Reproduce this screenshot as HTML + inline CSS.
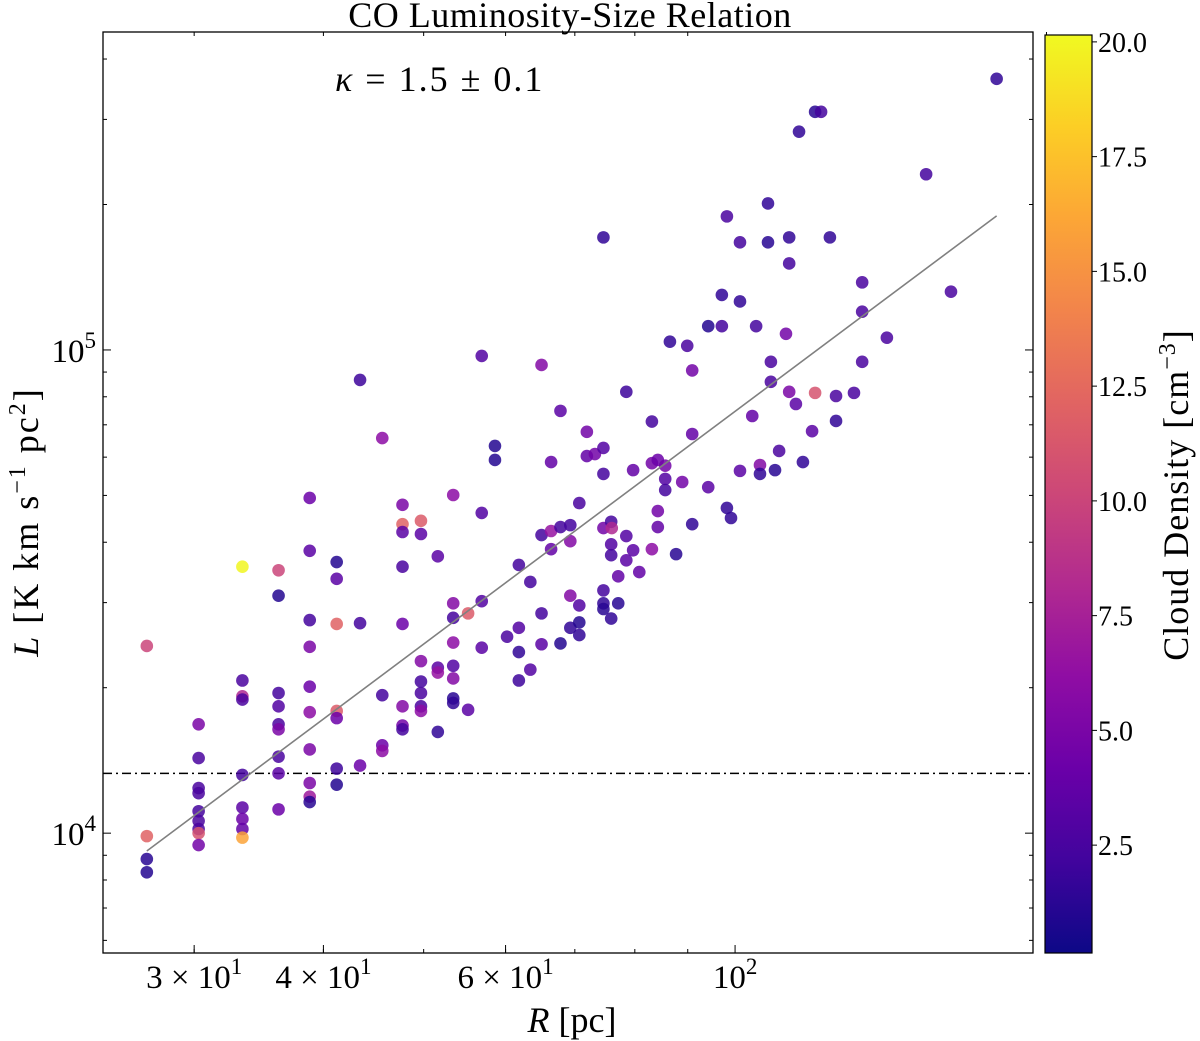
<!DOCTYPE html>
<html><head><meta charset="utf-8"><style>
html,body{margin:0;padding:0;background:#fff;}
svg{display:block;font-family:"Liberation Serif",serif;}
</style></head><body>
<svg id="chart" width="1200" height="1041" viewBox="0 0 1200 1041" xmlns="http://www.w3.org/2000/svg">
<defs>
<linearGradient id="plasma" x1="0" y1="1" x2="0" y2="0">
<stop offset="0" stop-color="#0d0887"/><stop offset="0.1" stop-color="#41049d"/><stop offset="0.2" stop-color="#6a00a8"/><stop offset="0.3" stop-color="#8f0da4"/><stop offset="0.4" stop-color="#b12a90"/><stop offset="0.5" stop-color="#cc4778"/><stop offset="0.6" stop-color="#e16462"/><stop offset="0.7" stop-color="#f2844b"/><stop offset="0.8" stop-color="#fca636"/><stop offset="0.9" stop-color="#fcce25"/><stop offset="1" stop-color="#f0f921"/>
</linearGradient>
<clipPath id="clip"><rect x="103" y="32" width="930" height="921"/></clipPath>
</defs>
<text x="570" y="27" font-size="36" text-anchor="middle" letter-spacing="0.5">CO Luminosity-Size Relation</text>
<text x="335" y="91" font-size="36" letter-spacing="2"><tspan font-style="italic">κ</tspan> = 1.5 ± 0.1</text>
<g id="marks" clip-path="url(#clip)"></g>
<g id="axes"></g>
<rect x="103" y="32" width="930" height="921" fill="none" stroke="#000" stroke-width="1.3"/>
<text x="572" y="1032" font-size="36" text-anchor="middle"><tspan font-style="italic">R</tspan> [pc]</text>
<text transform="translate(38,522) rotate(-90)" font-size="36" text-anchor="middle" letter-spacing="2"><tspan font-style="italic">L</tspan> [K km s<tspan dy="-13" font-size="24">−1</tspan><tspan dy="13"> pc</tspan><tspan dy="-13" font-size="24">2</tspan><tspan dy="13">]</tspan></text>
<rect x="1045" y="35" width="47" height="918" fill="url(#plasma)" stroke="#000" stroke-width="1.2"/>
<g id="cbticks"></g>
<text transform="translate(1188,495) rotate(-90)" font-size="36" text-anchor="middle" letter-spacing="1">Cloud Density [cm<tspan dy="-13" font-size="24">−3</tspan><tspan dy="13">]</tspan></text>
</svg>
<script>
const radius = [27.0,27.0,27.0,27.0,30.3,30.3,30.3,30.3,30.3,30.3,30.3,30.3,30.3,33.4,33.4,33.4,33.4,33.4,33.4,33.4,33.4,33.4,36.2,36.2,36.2,36.2,36.2,36.2,36.2,36.2,36.2,38.8,38.8,38.8,38.8,38.8,38.8,38.8,38.8,38.8,38.8,41.2,41.2,41.2,41.2,41.2,41.2,41.2,43.4,43.4,43.4,45.6,45.6,45.6,45.6,47.7,47.7,47.7,47.7,47.7,47.7,47.7,47.7,49.7,49.7,49.7,49.7,49.7,49.7,49.7,51.6,51.6,51.6,51.6,53.4,53.4,53.4,53.4,53.4,53.4,53.4,53.4,55.2,55.2,56.9,56.9,56.9,56.9,58.6,58.6,60.2,61.8,61.8,61.8,61.8,63.4,63.4,65.0,65.0,65.0,65.0,66.4,66.4,66.4,67.8,67.8,67.8,69.3,69.3,69.3,69.3,70.7,70.7,70.7,70.7,71.9,71.9,73.2,74.6,74.6,74.6,74.6,74.6,74.6,74.6,75.9,75.9,75.9,75.9,76.0,77.1,77.1,78.5,78.5,78.5,79.7,79.7,80.8,83.1,83.1,83.1,84.2,84.2,84.2,85.6,85.6,85.6,86.5,87.7,88.9,89.9,90.9,90.9,90.9,94.2,94.2,97.1,97.1,98.2,98.2,99.1,101.1,101.1,101.1,103.9,104.8,105.7,105.7,107.6,107.6,108.3,108.3,109.3,110.3,112.0,112.8,112.8,112.8,114.5,115.3,116.3,118.7,119.5,119.5,121.1,123.5,125.2,125.2,130.3,132.7,132.7,132.7,140.2,153.0,161.7,179.0];
const luminosity = [24400,9860,8840,8300,16800,14300,12400,12100,11100,10600,10200,10000,9450,35600,20700,19200,18900,13200,11300,10700,10200,9790,35000,31000,19500,18300,16800,16400,14400,13300,11200,49400,38400,27600,24300,20100,17800,14900,12700,11900,11600,36400,33600,27100,17900,17300,13600,12600,86700,27200,13800,65700,19300,15200,14800,43600,42000,47800,35600,27100,18300,16700,16400,44300,41600,22700,20600,19500,18300,17900,37400,22000,21500,16200,50100,29900,27900,24800,22200,20900,19000,18600,28500,18000,97200,46000,30200,24200,63300,59200,25500,35900,26600,23700,20700,33100,21800,93100,41400,28500,24600,58600,42200,38700,74800,43000,24700,43400,40200,31000,26600,48200,29600,27300,25700,67700,60300,60900,171000,62700,55400,42800,31800,29900,29100,44100,39600,37600,27800,42800,34000,29900,81900,41200,36700,56400,38500,34700,71100,58300,38700,59200,46400,43000,57600,54100,51300,104000,37800,53300,102000,90700,67000,43600,112000,52000,112000,130000,189000,47100,44900,126000,167000,56200,73000,112000,57800,55400,201000,167000,94500,85900,56400,61800,108000,171000,151000,81900,77300,283000,58600,67900,311000,81500,311000,171000,80300,71300,81500,138000,120000,94500,106000,231000,132000,364000];
const density = [10,12,1.2,1,5,2.6,2.6,2.6,2.3,2.6,2.6,11,4.6,20,2.6,8,2.6,2.3,3.4,4.2,3.8,16,10,1,2.3,3,2.6,5,2.6,3.4,4.2,4.2,3.4,2.3,5,4.2,6,5,5,7,1.2,1,3.4,12,11.5,4.2,2,1,2,2.3,4.2,6,2.3,4.2,6,12,3.4,5,2.6,4.2,5.5,4.6,2.3,11.5,3.4,5.5,2.3,2.6,2.6,6,3.4,3.4,6.5,1.5,6,5.5,2.3,6,3,5.5,1.2,1.5,11.5,3.4,3,3,3,3.4,1,1,2.6,2.3,3,1.5,2,2.3,3,5.5,2.3,2.3,3.4,3.8,6.5,3.8,3.4,2.3,1,2.3,5.5,5.5,1.5,2.6,3,1,1.5,4.6,3.8,4.6,1.5,3,2.3,4.6,2.3,1.5,1.2,2.3,3,2.3,1.5,8,3.8,1.2,2,3,3.4,3.8,3.4,3.8,2.3,4.6,6,4.2,4.6,3.8,4.6,3,2.3,1.5,1.2,4.6,2.6,4.6,3.8,1.5,1,3.4,2.3,1.5,2.6,1.5,1.5,1.5,2.3,3.4,3.8,2.3,5.5,1.5,1.5,1.2,2.6,2.6,1.2,2.6,4.6,1.5,2.3,5,3.4,1.5,1.5,3.4,1.2,11,2.3,1.5,2.6,1.5,2.6,2.6,2.6,2.6,2.6,2.3,2.6,1.5];
const fitSlope = 1.6;
const fitIntercept = 1.673;
const completenessLimit = 13300;
const xTickValues = [30,40,60,100];
const xTickLabels = ["3 × 10","4 × 10","6 × 10","10"];
const xTickExps = ["1","1","1","2"];
const xMinorValues = [30,40,50,60,70,80,90,200];
const yTickValues = [10000,100000];
const yTickExps = ["4","5"];
const yMinorValues = [6000,7000,8000,9000,20000,30000,40000,50000,60000,70000,80000,90000,200000,300000,400000];
const cbTicks = [2.5,5.0,7.5,10.0,12.5,15.0,17.5,20.0];

const NS="http://www.w3.org/2000/svg";
const L=103,R=1033,T=32,B=953;
const lxMin=1.389,lxMax=2.288,lyMin=3.752,lyMax=5.658;
const cMin=0.15,cMax=20.15;
function xs(v){return L+(Math.log10(v)-lxMin)/(lxMax-lxMin)*(R-L);}
function ys(v){return B-(Math.log10(v)-lyMin)/(lyMax-lyMin)*(B-T);}
function cs(v){return 953-(v-cMin)/(cMax-cMin)*918;}
const stops=[[13,8,135],[65,4,157],[106,0,168],[143,13,164],[177,42,144],[204,71,120],[225,100,98],[242,132,75],[252,166,54],[252,206,37],[240,249,33]];
function plasma(v){let t=Math.max(0,Math.min(1,(v-cMin)/(cMax-cMin)))*10;let i=Math.min(9,Math.floor(t));let f=t-i;const a=stops[i],b=stops[i+1];return `rgb(${Math.round(a[0]+(b[0]-a[0])*f)},${Math.round(a[1]+(b[1]-a[1])*f)},${Math.round(a[2]+(b[2]-a[2])*f)})`;}
function mk(tag,attrs,parent){const e=document.createElementNS(NS,tag);for(const k in attrs)e.setAttribute(k,attrs[k]);parent.appendChild(e);return e;}
const marks=document.getElementById('marks');
const axes=document.getElementById('axes');

const lim=mk('line',{x1:L,x2:R,y1:ys(completenessLimit),y2:ys(completenessLimit),stroke:'#000','stroke-width':1.5,'stroke-dasharray':'9,4,2,4'},marks);



for(let i=0;i<radius.length;i++){
  const c=mk('circle',{cx:xs(radius[i]),cy:ys(luminosity[i]),r:6.3,fill:plasma(density[i]),'fill-opacity':0.85},marks);
  
  
}
const rMin=Math.min(...radius),rMax=Math.max(...radius);
const fit=mk('line',{x1:xs(rMin),y1:ys(Math.pow(10,fitIntercept+fitSlope*Math.log10(rMin))),x2:xs(rMax),y2:ys(Math.pow(10,fitIntercept+fitSlope*Math.log10(rMax))),stroke:'#808080','stroke-width':1.6},marks);



xMinorValues.forEach(v=>{const x=xs(v);mk('line',{x1:x,x2:x,y1:B,y2:B-4,stroke:'#000','stroke-width':1},axes);mk('line',{x1:x,x2:x,y1:T,y2:T+4,stroke:'#000','stroke-width':1},axes);});
xTickValues.forEach((v,i)=>{const x=xs(v);
  mk('line',{x1:x,x2:x,y1:B,y2:B-8,stroke:'#000','stroke-width':1},axes);
  const t=mk('text',{x:x,y:988,'font-size':33,'text-anchor':'middle'},axes);
  t.textContent=xTickLabels[i];
  const s=mk('tspan',{dy:-14,'font-size':23},t);s.textContent=xTickExps[i];
  
  
});
yMinorValues.forEach(v=>{const y=ys(v);mk('line',{x1:L,x2:L+4,y1:y,y2:y,stroke:'#000','stroke-width':1},axes);mk('line',{x1:R,x2:R-4,y1:y,y2:y,stroke:'#000','stroke-width':1},axes);});
yTickValues.forEach((v,i)=>{const y=ys(v);
  mk('line',{x1:L,x2:L+8,y1:y,y2:y,stroke:'#000','stroke-width':1},axes);
  mk('line',{x1:R,x2:R-8,y1:y,y2:y,stroke:'#000','stroke-width':1},axes);
  const t=mk('text',{x:96,y:y+12,'font-size':33,'text-anchor':'end'},axes);
  t.textContent='10';
  const s=mk('tspan',{dy:-14,'font-size':23},t);s.textContent=yTickExps[i];
  
  
});
const cbg=document.getElementById('cbticks');
cbTicks.forEach(v=>{const y=cs(v);
  mk('line',{x1:1092,x2:1097,y1:y,y2:y,stroke:'#000','stroke-width':1},cbg);
  const t=mk('text',{x:1098,y:y+10,'font-size':28},cbg);
  t.textContent=v.toFixed(1);
  
  
});
</script>
</body></html>
